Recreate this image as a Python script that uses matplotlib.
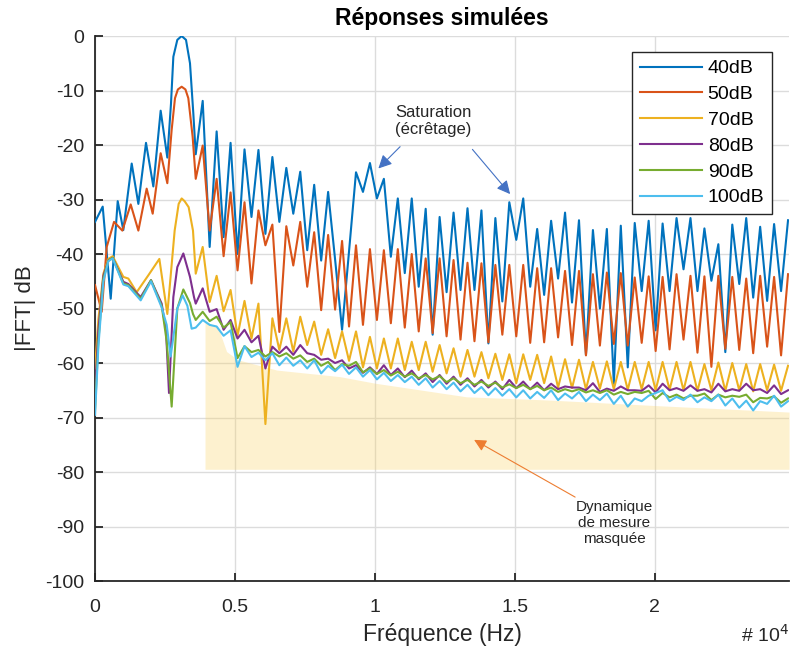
import numpy as np
import matplotlib
matplotlib.use('Agg')
from matplotlib import pyplot as plt

plt.rcParams['font.family'] = ['Liberation Sans', 'DejaVu Sans']
plt.rcParams['axes.unicode_minus'] = False

# lobe grid of the side lobes (Hz): nulls and peaks alternate after the main lobe
lobe_k = np.arange(1, 44)
null_hz = 3100 + 498 * lobe_k
peak_hz = null_hz + 249

labels = ['40dB', '50dB', '70dB', '80dB', '90dB', '100dB']
colors = ['#0072BD', '#D95319', '#EDB120', '#7E2F8E', '#77AC30', '#4DBEEE']

# --- 40 dB
b_head_hz = [0, 274, 560, 810, 1010, 1310, 1548, 1821, 2083, 2345, 2583, 2714, 2798,
             2940, 3095, 3250, 3393, 3512]
b_head_db = [-34.1, -31.3, -48.2, -30.3, -35.6, -23.4, -30.8, -19.6, -27.6, -13.7, -22.3,
             -12.4, -3.8, -0.7, 0.0, -0.7, -5.0, -14.2]
b_null = [-21.7, -38.7, -36.9, -40.0, -33.2, -36.3, -34.1, -32.6, -39.3, -41.2,
          -41.0, -39.5, -28.6, -29.8, -40.5, -43.5, -46.0, -54.8, -47.0, -46.6,
          -46.6, -56.4, -48.7, -37.4, -46.0, -47.5, -44.5, -48.9, -58.5, -50.0,
          -63.8, -60.8, -46.8, -54.0, -46.8, -42.8, -46.8, -44.9, -58.0, -45.5,
          -48.0, -48.6, -46.8]
b_peak = [-11.9, -17.5, -19.6, -20.8, -20.9, -22.2, -24.2, -24.9, -27.3, -28.6,
          -53.9, -25.0, -23.3, -26.2, -29.8, -29.8, -31.7, -33.2, -32.4, -31.6,
          -32.0, -33.4, -30.5, -29.8, -35.4, -33.9, -32.4, -33.8, -35.6, -35.4,
          -34.8, -34.3, -33.9, -34.4, -33.4, -33.4, -35.3, -38.2, -34.6, -33.4,
          -35.0, -34.5, -33.8]

# --- 50 dB
o_head_hz = [0, 238, 417, 679, 976, 1274, 1548, 1845, 2060, 2345, 2583, 2738, 2857,
             2960, 3095, 3230, 3333, 3488]
o_head_db = [-45.7, -50.6, -38.7, -34.1, -35.7, -30.9, -35.7, -28.0, -32.6, -21.5, -27.0,
             -17.2, -11.4, -9.8, -9.3, -9.8, -11.4, -18.5]
o_null = [-26.2, -35.7, -40.4, -43.0, -45.4, -38.4, -54.3, -42.1, -46.0, -50.3,
          -50.2, -53.3, -53.0, -52.1, -52.7, -53.5, -54.2, -54.5, -55.1, -55.7,
          -56.0, -56.2, -54.8, -55.1, -56.3, -56.2, -55.3, -56.7, -58.6, -56.8,
          -56.5, -56.8, -56.3, -57.8, -57.5, -55.7, -58.1, -60.7, -57.4, -57.6,
          -58.2, -57.0, -58.6]
o_peak = [-20.1, -26.2, -28.7, -30.5, -32.0, -34.6, -34.9, -34.1, -36.0, -36.5,
          -37.6, -38.4, -39.1, -39.3, -39.1, -40.0, -40.8, -40.8, -41.1, -41.6,
          -41.7, -42.0, -42.0, -42.0, -42.6, -42.6, -43.1, -43.1, -43.7, -43.4,
          -43.5, -44.3, -44.1, -44.2, -43.7, -44.0, -44.1, -44.0, -44.2, -44.5,
          -44.0, -44.2, -43.7]

# --- 70 dB
y_head_hz = [0, 119, 298, 476, 631, 1012, 1190, 1488, 1905, 2298, 2583, 2845, 2988,
             3095, 3200, 3345, 3500]
y_head_db = [-61.0, -52.0, -43.6, -40.9, -40.4, -44.2, -44.5, -47.0, -43.9, -40.9, -51.0,
             -35.7, -30.8, -29.8, -30.3, -31.4, -35.7]
y_null = [-43.6, -48.8, -50.5, -55.0, -55.5, -71.2, -57.6, -57.9, -56.7, -58.5,
          -59.1, -59.6, -60.8, -61.0, -61.0, -61.3, -61.3, -61.6, -61.9, -62.5,
          -62.5, -62.8, -63.1, -63.7, -63.1, -63.7, -64.5, -64.6, -64.8, -64.7,
          -64.8, -64.9, -64.8, -65.0, -64.9, -65.0, -65.1, -65.0, -65.1, -65.0,
          -65.2, -65.0, -65.1]
y_peak = [-38.7, -44.0, -46.6, -48.6, -49.1, -51.8, -51.8, -51.5, -52.4, -53.8,
          -54.2, -54.2, -55.2, -55.5, -55.5, -56.1, -56.1, -56.7, -57.3, -57.6,
          -58.0, -58.3, -58.4, -58.4, -58.5, -58.8, -59.3, -59.4, -59.8, -59.7,
          -59.8, -59.8, -59.8, -59.8, -59.8, -59.8, -60.2, -59.9, -60.0, -60.2,
          -60.2, -60.3, -60.5]

# --- 80 dB
p_head_hz = [0, 119, 298, 476, 631, 1012, 1190, 1631, 2000, 2381, 2536, 2643, 2798,
             2940, 3155, 3393, 3536]
p_head_db = [-65.5, -54.0, -44.0, -41.2, -40.7, -45.1, -45.5, -47.9, -44.8, -49.1, -54.0,
             -65.5, -47.9, -42.4, -39.9, -44.2, -47.9]
p_null = [-49.1, -50.6, -53.9, -55.5, -56.2, -61.0, -58.2, -58.5, -58.2, -59.4,
          -60.0, -61.0, -61.8, -62.0, -62.2, -62.6, -63.0, -63.5, -63.8, -64.0,
          -64.3, -64.5, -64.8, -64.6, -64.8, -65.0, -64.8, -64.5, -65.0, -65.3,
          -65.1, -65.0, -65.1, -65.4, -65.0, -65.1, -65.1, -65.4, -65.2, -65.1,
          -65.0, -65.5, -65.7]
p_peak = [-46.3, -50.1, -52.1, -53.9, -55.0, -57.0, -57.0, -56.7, -58.5, -59.2,
          -59.5, -60.4, -60.8, -60.4, -61.0, -61.4, -61.9, -62.2, -62.5, -62.8,
          -63.1, -63.4, -63.1, -63.4, -63.6, -63.8, -64.3, -64.5, -63.7, -64.7,
          -64.3, -65.0, -64.1, -63.8, -64.6, -64.1, -64.8, -63.8, -64.8, -63.8,
          -64.8, -64.1, -65.0]

# --- 90 dB
g_head_hz = [0, 119, 298, 476, 631, 1012, 1190, 1631, 2000, 2381, 2560, 2738, 2940,
             3155, 3393, 3500]
g_head_db = [-68.5, -56.0, -44.5, -41.2, -40.7, -45.4, -45.7, -48.2, -44.8, -49.5, -56.0,
             -68.0, -50.0, -46.5, -49.0, -51.0]
g_null = [-52.1, -52.3, -53.5, -59.1, -58.0, -58.8, -58.8, -59.2, -59.8, -60.5,
          -61.3, -60.5, -61.7, -62.0, -62.3, -62.5, -62.8, -63.0, -63.5, -63.7,
          -64.0, -64.2, -64.5, -64.6, -64.8, -65.0, -65.3, -65.2, -65.4, -65.5,
          -65.8, -65.7, -65.5, -66.6, -66.3, -66.5, -66.0, -66.8, -66.3, -66.2,
          -67.2, -66.5, -67.3]
g_peak = [-50.6, -51.5, -52.5, -56.9, -57.6, -58.0, -58.2, -58.6, -59.2, -59.8,
          -60.2, -59.8, -61.0, -61.3, -61.6, -61.9, -62.2, -62.4, -62.8, -63.1,
          -63.4, -63.6, -63.9, -64.0, -64.2, -64.5, -64.8, -64.8, -65.0, -65.0,
          -65.3, -65.3, -65.1, -65.5, -65.8, -66.0, -65.6, -65.8, -66.0, -65.8,
          -66.4, -66.1, -66.5]

# --- 100 dB
c_head_hz = [0, 119, 298, 476, 631, 1012, 1190, 1631, 2000, 2381, 2560, 2702, 2940,
             3131, 3300, 3452]
c_head_db = [-69.5, -57.0, -45.0, -41.3, -40.8, -45.6, -45.9, -48.5, -45.0, -49.8, -53.0,
             -58.8, -50.0, -47.6, -49.5, -53.7]
c_null = [-53.5, -53.0, -55.0, -60.7, -58.9, -59.5, -60.4, -60.5, -61.0, -61.9,
          -61.5, -62.0, -62.5, -63.0, -63.3, -63.5, -64.0, -64.5, -64.8, -65.2,
          -65.5, -65.9, -66.0, -66.3, -66.5, -66.4, -66.8, -66.5, -67.0, -66.8,
          -67.5, -68.0, -67.0, -65.5, -67.0, -66.8, -67.2, -67.0, -67.8, -68.2,
          -68.7, -67.5, -68.0]
c_peak = [-52.1, -53.3, -54.0, -56.9, -58.1, -58.2, -59.0, -59.5, -59.5, -60.5,
          -60.3, -60.8, -61.3, -61.8, -62.2, -62.5, -62.8, -63.3, -63.6, -64.0,
          -64.4, -64.6, -64.8, -65.0, -65.3, -65.0, -65.6, -65.3, -65.8, -65.6,
          -66.0, -66.5, -66.0, -65.0, -66.2, -65.8, -66.3, -65.8, -66.5, -66.9,
          -67.0, -66.0, -67.0]

# masked measurement range (shaded area)
mask_hz = [3930, 4400, 4700, 5100, 6500, 8750, 10000, 13274, 16250, 20000, 24800]
mask_top = [-52.4, -53.5, -57.9, -59.4, -61.3, -62.5, -63.7, -66.2, -66.8, -67.8, -69.0]
mask_floor = -79.5


def build(head_hz, head_db, nulls, peaks):
    xs = np.column_stack([null_hz, peak_hz]).ravel()
    ys = np.column_stack([nulls, peaks]).ravel()
    return np.concatenate([head_hz, xs]), np.concatenate([head_db, ys])


curves = [build(b_head_hz, b_head_db, b_null, b_peak),
          build(o_head_hz, o_head_db, o_null, o_peak),
          build(y_head_hz, y_head_db, y_null, y_peak),
          build(p_head_hz, p_head_db, p_null, p_peak),
          build(g_head_hz, g_head_db, g_null, g_peak),
          build(c_head_hz, c_head_db, c_null, c_peak)]

fig = plt.figure(figsize=(7.92, 6.54), dpi=100)
ax = fig.add_axes([0.12, 0.1116, 0.8763, 0.8333])

ax.fill_between(mask_hz, mask_top, mask_floor, color='#FBD46A', alpha=0.32,
                linewidth=0, zorder=1)

for (x, y), lab, col in zip(curves, labels, colors):
    ax.plot(x, y, color=col, lw=1.5, label=lab, zorder=3)

ax.set_xlim(0, 24800)
ax.set_ylim(-100, 0)
ax.set_xticks([0, 5000, 10000, 15000, 20000])
ax.set_xticklabels(['0', '0.5', '1', '1.5', '2'])
ax.set_yticks(np.arange(-100, 1, 10))
ax.grid(True, color='#dcdcdc', lw=1)
ax.set_axisbelow(True)
for s in ['top', 'right']:
    ax.spines[s].set_visible(False)
for s in ['left', 'bottom']:
    ax.spines[s].set_color('#262626')
    ax.spines[s].set_linewidth(1.3)
ax.tick_params(direction='in', length=6, width=1.3, color='#262626',
               labelcolor='#262626', labelsize=14)
ax.tick_params(axis='x', pad=13)
ax.tick_params(axis='y', pad=8)

ax.set_title('Réponses simulées', fontsize=16.5, fontweight='bold', pad=8)
ax.set_xlabel('Fréquence (Hz)', fontsize=16.5, color='#262626', labelpad=5)
ax.set_ylabel('|FFT| dB', fontsize=16, color='#262626', labelpad=6)
fig.text(0.966, 0.018, '# 10$^{4}$', fontsize=14, color='#262626', ha='center')

leg = ax.legend(loc='upper right', bbox_to_anchor=(0.9755, 0.9706), fontsize=14,
                frameon=True, fancybox=False, edgecolor='#262626', framealpha=1,
                handlelength=3.2, handletextpad=0.3, labelspacing=0.42,
                borderpad=0.4, borderaxespad=0)
leg.get_frame().set_linewidth(1.0)

ax.text(12080, -15.6, 'Saturation\n(écrêtage)', ha='center', va='center',
        fontsize=12, color='#262626')
for tail, head in [((10901, -20.3), (10125, -24.3)), ((13485, -20.8), (14832, -29.0))]:
    ax.annotate('', xy=head, xytext=tail,
                arrowprops=dict(arrowstyle='-|>', color='#4472C4', lw=0.8,
                                mutation_scale=20, shrinkA=0, shrinkB=0))

ax.text(18549, -89.4, 'Dynamique\nde mesure\nmasquée', ha='center', va='center',
        fontsize=11, color='#262626')
ax.annotate('', xy=(13545, -74.1), xytext=(17155, -84.6),
            arrowprops=dict(arrowstyle='-|>', color='#ED7D31', lw=0.8,
                            mutation_scale=18, shrinkA=0, shrinkB=0))

fig.savefig('out.png', dpi=100)
